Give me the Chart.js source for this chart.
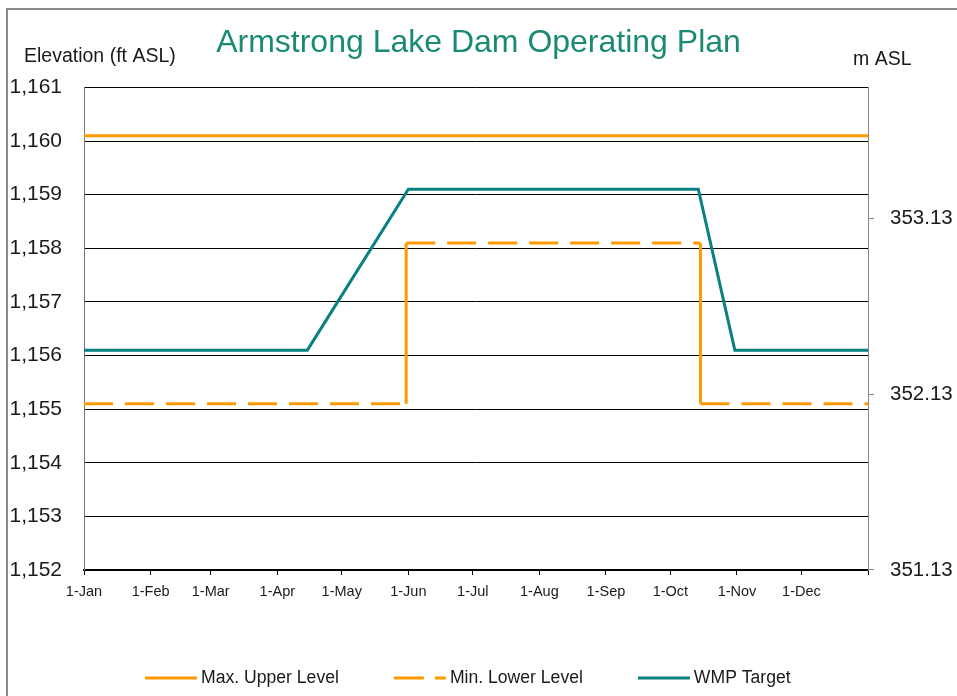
<!DOCTYPE html>
<html>
<head>
<meta charset="utf-8">
<title>Armstrong Lake Dam Operating Plan</title>
<script src="https://cdn.jsdelivr.net/npm/chart.js@4.4.1/dist/chart.umd.min.js"></script>
<style>
	html, body { margin: 0; padding: 0; background: #fff; }
	#wrap { position: relative; width: 957px; height: 696px; overflow: hidden; }
	#frame { position: absolute; left: 6px; top: 8px; width: 1000px; height: 1000px; border: 2px solid #8a8a8a; box-sizing: border-box; }
	#chart { position: absolute; left: 0; top: 0; }
</style>
</head>
<body>
<div id="wrap">
	<div id="frame"></div>
	<canvas id="chart" width="957" height="696"></canvas>
</div>
<script>
// day of year (0 = 1-Jan) and elevation in ft ASL
const monthStartDays = [0, 31, 59, 90, 120, 151, 181, 212, 243, 273, 304, 334, 365];
const monthLabels = ["1-Jan", "1-Feb", "1-Mar", "1-Apr", "1-May", "1-Jun", "1-Jul", "1-Aug", "1-Sep", "1-Oct", "1-Nov", "1-Dec"];

const maxUpperDays = [0, 365];
const maxUpperLevel = [1160.1, 1160.1];

const minLowerDays = [0, 150, 150, 287, 287, 365];
const minLowerLevel = [1155.1, 1155.1, 1158.1, 1158.1, 1155.1, 1155.1];

const wmpDays = [0, 104, 151, 286, 303, 365];
const wmpTarget = [1156.1, 1156.1, 1159.1, 1159.1, 1156.1, 1156.1];

const ftMin = 1152;
const ftMax = 1161;
const metreTicks = [351.13, 352.13, 353.13];
const FT_PER_M = 3.28084;

const seriesNames = ["Max. Upper Level", "Min. Lower Level", "WMP Target"];
const chartTitle = "Armstrong Lake Dam Operating Plan";
const leftCaption = "Elevation (ft ASL)";
const rightCaption = "m ASL";

const ORANGE = "#ff9900";
const TEAL = "#0a8080";
const TEXT = "#1a1a1a";
const FONT = '"Liberation Sans", Arial, sans-serif';
const LOWER_DASH = [29, 12];

const toPoints = (xs, ys) => xs.map((x, i) => ({ x: x, y: ys[i] }));

// captions above the axes and the legend row under the chart
const extrasPlugin = {
	id: "extras",
	afterDraw(chart) {
		const ctx = chart.ctx;
		ctx.save();
		ctx.fillStyle = TEXT;
		ctx.textBaseline = "middle";
		ctx.textAlign = "left";
		ctx.font = "19.5px " + FONT;
		ctx.fillText(leftCaption, 24, 57);
		ctx.fillText(rightCaption, 853, 60);

		ctx.font = "17.6px " + FONT;
		const y = 678;
		let x = 145;
		chart.data.datasets.forEach((ds) => {
			ctx.beginPath();
			ctx.strokeStyle = ds.borderColor;
			ctx.lineWidth = ds.borderWidth;
			ctx.setLineDash(ds.legendDash || []);
			ctx.moveTo(x, y);
			ctx.lineTo(x + 52, y);
			ctx.stroke();
			ctx.setLineDash([]);
			ctx.fillStyle = TEXT;
			ctx.fillText(ds.label, x + 56, y);
			x += 56 + ctx.measureText(ds.label).width + 55;
		});
		ctx.restore();
	},
};

const ctx = document.getElementById("chart").getContext("2d");

const data = {
	datasets: [
		{
			label: seriesNames[0],
			data: toPoints(maxUpperDays, maxUpperLevel),
			borderColor: ORANGE,
			borderWidth: 3,
		},
		{
			label: seriesNames[1],
			data: toPoints(minLowerDays, minLowerLevel),
			borderColor: ORANGE,
			borderWidth: 3,
			legendDash: [30, 11],
			segment: {
				// vertical steps are drawn solid, the flat parts dashed
				borderDash: (c) => (c.p0.parsed.x === c.p1.parsed.x ? [] : LOWER_DASH),
			},
		},
		{
			label: seriesNames[2],
			data: toPoints(wmpDays, wmpTarget),
			borderColor: TEAL,
			borderWidth: 3,
		},
	],
};

const options = {
	animation: false,
	responsive: false,
	layout: { padding: 0 },
	elements: {
		point: { radius: 0 },
		line: { tension: 0, borderCapStyle: "butt", borderJoinStyle: "miter", fill: false },
	},
	scales: {
		x: {
			type: "linear",
			min: 0,
			max: 365,
			afterBuildTicks: (scale) => {
				scale.ticks = monthStartDays.map((v) => ({ value: v }));
			},
			afterFit: (scale) => {
				scale.height = 126;
			},
			ticks: {
				autoSkip: false,
				maxRotation: 0,
				padding: 8,
				color: TEXT,
				font: { family: FONT, size: 14.5 },
				callback: (value, index) => monthLabels[index] || "",
			},
			grid: { drawOnChartArea: false, drawTicks: true, tickLength: 5, color: "#000" },
			border: { display: true, color: "#000", width: 2 },
		},
		y: {
			position: "left",
			min: ftMin,
			max: ftMax,
			afterFit: (scale) => {
				scale.width = 84;
			},
			ticks: {
				stepSize: 1,
				padding: 22,
				color: TEXT,
				font: { family: FONT, size: 21 },
				callback: (value) => value.toLocaleString("en-US"),
			},
			grid: { color: "#000", lineWidth: 1, drawTicks: false },
			border: { display: true, color: "#777", width: 1 },
		},
		yM: {
			position: "right",
			min: ftMin / FT_PER_M,
			max: ftMax / FT_PER_M,
			afterBuildTicks: (scale) => {
				scale.ticks = metreTicks.map((v) => ({ value: v }));
			},
			afterFit: (scale) => {
				scale.width = 89;
			},
			ticks: {
				padding: 16,
				color: TEXT,
				font: { family: FONT, size: 20.5 },
				callback: (value) => Number(value).toFixed(2),
			},
			grid: { drawOnChartArea: false, drawTicks: true, tickLength: 6, color: "#888" },
			border: { display: true, color: "#888", width: 1 },
		},
	},
	plugins: {
		legend: { display: false },
		tooltip: { enabled: false },
		title: {
			display: true,
			text: chartTitle,
			color: "#1a8a74",
			font: { family: FONT, size: 32, weight: "normal" },
			padding: { top: 24, bottom: 25 },
		},
	},
};

new Chart(ctx, {
	type: "line",
	data: data,
	options: options,
	plugins: [extrasPlugin],
});
</script>
</body>
</html>
